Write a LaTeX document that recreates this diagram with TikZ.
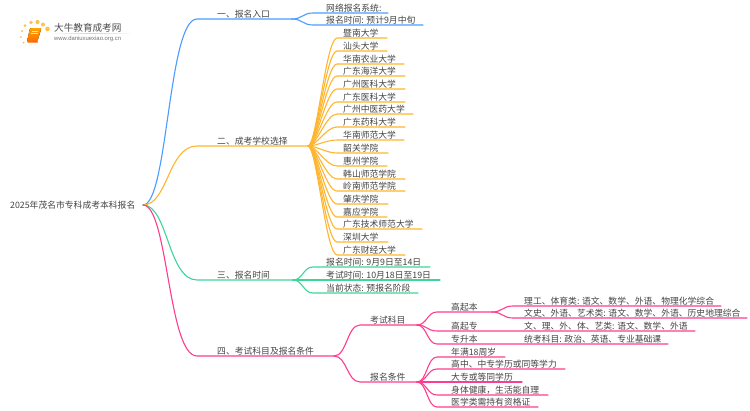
\documentclass[tikz,border=0pt]{standalone}
\usepackage{fontspec}
\setmainfont{Noto Sans CJK SC}
\newfontfamily\urlfont{Liberation Sans}
\definecolor{cblue}{HTML}{4A9DFF}
\definecolor{corange}{HTML}{FFB62E}
\definecolor{cgreen}{HTML}{3DD69A}
\definecolor{cpink}{HTML}{FF3D8E}
\definecolor{ctext}{HTML}{444444}
\tikzset{
  lbl/.style={anchor=west,inner sep=0pt,text=ctext,font=\fontsize{8.8}{10}\selectfont},
  conn/.style={line width=1.1pt,line cap=round}
}
% \lf{name}{colour}{fork}{curve end x}{text x}{line y}{line end x}{text}
\newcommand\lf[8]{%
  \coordinate (#1s) at (#4,#6);
  \coordinate (#1e) at (#7,#6);
  \coordinate (#1c1) at ($(#3)!0.5!(#1s)$);
  \node[lbl] (#1) at (#5,#6-4.8) {#8};
  \draw[conn,#2] (#3) .. controls (#1c1 |- #3) and (#1c1 |- #1s) .. (#1s) -- (#1e);
}
% fan variant: the curves stay bundled near the fork and bend late
\newcommand\fan[8]{%
  \coordinate (#1s) at (#4,#6);
  \coordinate (#1e) at (#7,#6);
  \coordinate (#1c1) at ($(#3)!0.3!(#1s)$);
  \coordinate (#1c2) at ($(#3)!0.62!(#1s)$);
  \node[lbl] (#1) at (#5,#6-4.8) {#8};
  \draw[conn,#2] (#3) .. controls (#1c1 |- #3) and (#1c2 |- #1s) .. (#1s) -- (#1e);
}
\usetikzlibrary{calc}
\begin{document}
\begin{tikzpicture}[x=1pt,y=-1pt]
\useasboundingbox (0,0) rectangle (750,410);
\fill[white] (0,0) rectangle (750,410);
% logo
\foreach \n/\a/\b/\r in {d1/25/25.5/1.5,d2/31/22.5/1.9,d3/37.5/22/2.1,d4/43/24.5/2,d5/47.5/29/2.3,d6/22/31/1.2,d7/21/37/1,d8/23.5/42.5/1}
  \fill[corange,opacity=.85] (\a,\b) circle (\r);
\fill[rounded corners=1pt,top color=orange!70!yellow,bottom color=orange!85!red] (30,28) -- (41.5,28) -- (37.5,41) -- (27,41.5) -- cycle;
\fill[orange!80!red] (27,41.5) -- (37.5,41) -- (38,42.5) -- (28,42.5) -- cycle;
\fill[white,opacity=.7] (31.5,30.5) rectangle (38,31.5);
\fill[white,opacity=.7] (31,33) rectangle (37.5,34);
\shade[left color=white,right color=white,middle color=black!18] (50,33) rectangle (133,33.6);
\node[anchor=west,inner sep=0pt,text=black!70,font=\fontsize{9.6}{11}\selectfont] (logot) at (54,27.5) {大牛教育成考网};
\node[anchor=west,inner sep=0pt,text=black!55,font=\urlfont\fontsize{5.9}{7}\selectfont] (logou) at (54,38.5) {www.daniuxuexiao.org.cn};
% root
\node[lbl] (root) at (10,205.6) {2025年茂名市专科成考本科报名};
\coordinate (r) at (143,205);
% branch 1
\coordinate (b1s) at (197,19); \coordinate (b1f) at (292,19);
\node[lbl] (b1) at (217,14.5) {一、报名入口};
\draw[conn,cblue] (r) .. controls (168,205) and (168,19) .. (b1s) -- (b1f);
\lf{a1}{cblue}{b1f}{313}{326}{13}{388}{网络报名系统:}
\lf{a2}{cblue}{b1f}{313}{326}{25}{423}{报名时间: 预计9月中旬}
% branch 2
\coordinate (b2s) at (197,146); \coordinate (b2f) at (308,146);
\node[lbl] (b2) at (217,141.5) {二、成考学校选择};
\draw[conn,corange] (r) .. controls (168,205) and (168,146) .. (b2s) -- (b2f);
\foreach \n/\y/\e/\t in {
 s1/38/387/暨南大学,s2/51/387/汕头大学,s3/64/404/华南农业大学,s4/76/405/广东海洋大学,
 s5/89/405/广州医科大学,s6/102/405/广东医科大学,s7/114/413/广州中医药大学,s8/127/405/广东药科大学,
 s9/140/404/华南师范大学,s10/153/388/韶关学院,s11/166/387/惠州学院,s12/179/405/韩山师范学院,
 s13/191/405/岭南师范学院,s14/204/388/肇庆学院,s15/217/387/嘉应学院,s16/229/422/广东技术师范大学,
 s17/242/388/深圳大学,s18/255/405/广东财经大学}{
 \fan{\n}{corange}{b2f}{337}{343}{\y}{\e}{\t}
}
% branch 3
\coordinate (b3s) at (197,280); \coordinate (b3f) at (293,280);
\node[lbl] (b3) at (217,275.5) {三、报名时间};
\draw[conn,cgreen] (r) .. controls (168,205) and (168,280) .. (b3s) -- (b3f);
\lf{t1}{cgreen}{b3f}{313}{326}{267}{430}{报名时间: 9月9日至14日}
\lf{t2}{cgreen}{b3f}{313}{326}{280}{440}{考试时间: 10月18日至19日}
\lf{t3}{cgreen}{b3f}{313}{326}{293}{418}{当前状态: 预报名阶段}
% branch 4
\coordinate (b4s) at (197,356); \coordinate (b4f) at (334,356);
\node[lbl] (b4) at (217,351.5) {四、考试科目及报名条件};
\draw[conn,cpink] (r) .. controls (168,205) and (168,356) .. (b4s) -- (b4f);
\coordinate (f1) at (417,325); \coordinate (f2) at (417,382);
\lf{k}{cpink}{b4f}{360}{370}{325}{417}{考试科目}
\lf{c}{cpink}{b4f}{360}{370}{382}{417}{报名条件}
\coordinate (f3) at (492,312);
\lf{g1}{cpink}{f1}{437}{451}{312}{492}{高起本}
\lf{g2}{cpink}{f1}{437}{451}{331}{695}{高起专}
\lf{g3}{cpink}{f1}{437}{451}{344}{668}{专升本}
\node[lbl] (g2t) at (524,326.2) {文、理、外、体、艺类: 语文、数学、外语};
\node[lbl] (g3t) at (524,339.2) {统考科目: 政治、英语、专业基础课};
\lf{h1}{cpink}{f3}{513}{524}{306}{721}{理工、体育类: 语文、数学、外语、物理化学综合}
\lf{h2}{cpink}{f3}{513}{524}{318}{747}{文史、外语、艺术类: 语文、数学、外语、历史地理综合}
\lf{q1}{cpink}{f2}{437}{451}{357}{505}{年满18周岁}
\lf{q2}{cpink}{f2}{437}{451}{369}{565}{高中、中专学历或同等学力}
\lf{q3}{cpink}{f2}{437}{451}{382}{522}{大专或等同学历}
\lf{q4}{cpink}{f2}{437}{451}{395}{548}{身体健康，生活能自理}
\lf{q5}{cpink}{f2}{437}{451}{407}{538}{医学类需持有资格证}
\end{tikzpicture}
\end{document}
